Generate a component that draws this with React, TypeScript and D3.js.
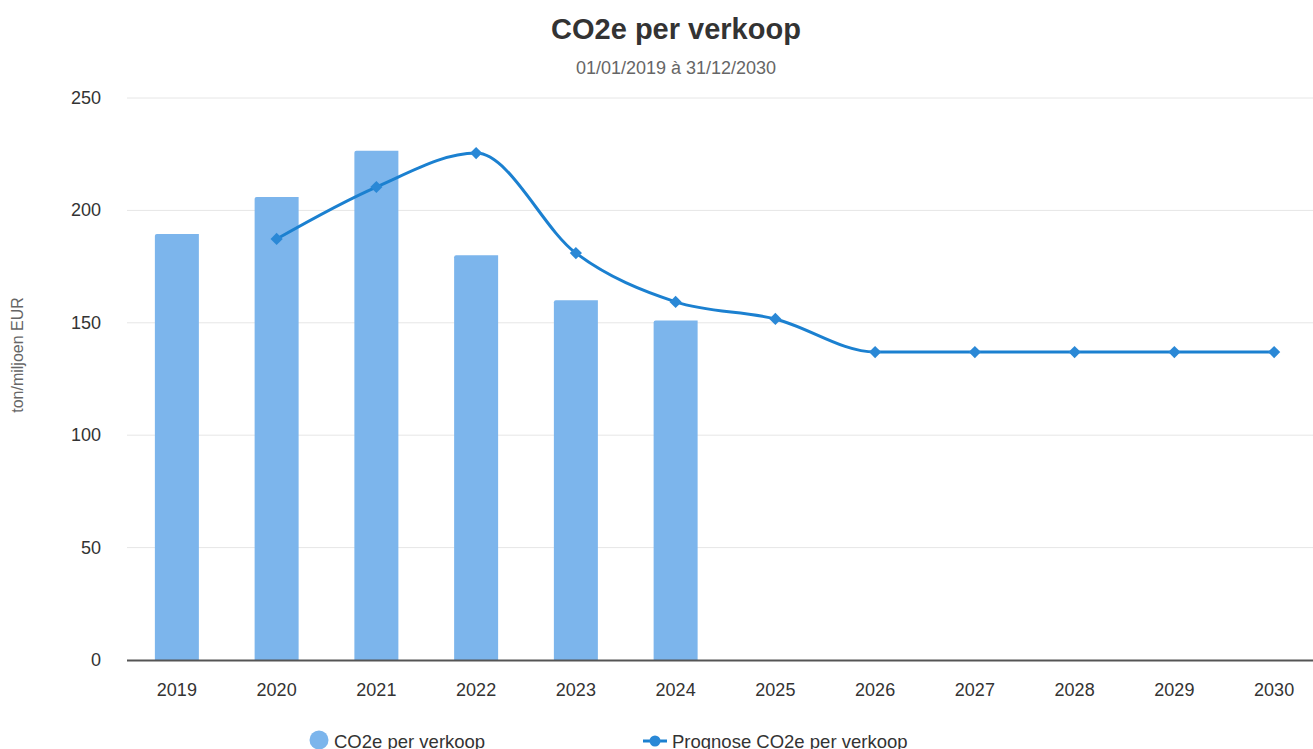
import React from "react";
import * as d3 from "d3";

const years = ["2019","2020","2021","2022","2023","2024","2025","2026","2027","2028","2029","2030"];
const barYears = ["2019","2020","2021","2022","2023","2024"];
const barValues = [189.5, 206, 226.5, 180, 160, 151];
const lineYears = ["2020","2021","2022","2023","2024","2025","2026","2027","2028","2029","2030"];
const lineValues = [187.3, 210.4, 225.5, 181, 159.3, 151.7, 137, 137, 137, 137, 137];
const yTicks = [0, 50, 100, 150, 200, 250];

const W = 1313, H = 749;
const left = 127, right = 1324, top = 98, bottom = 660;
const font = "'Liberation Sans', Arial, Helvetica, sans-serif";
const barColor = "#7cb5ec";
const lineColor = "#1b80d0";

export default function App() {
  const xc = d3.scalePoint<string>().domain(years).range([left, right]).padding(0.5);
  const y = d3.scaleLinear().domain([0, 250]).range([bottom, top]);
  const line = d3.line<number>()
    .x((_, i) => xc(lineYears[i])!)
    .y((d) => y(d))
    .curve(d3.curveMonotoneX);
  const bw = 44;
  const diamond = d3.symbol().type(d3.symbolDiamond2).size(95)();

  return (
    <svg width={W} height={H} style={{ position: "absolute", left: 0, top: 0, background: "#fff" }} fontFamily={font}>
      <text x={676} y={39} textAnchor="middle" fontSize={29} fontWeight="bold" fill="#333">CO2e per verkoop</text>
      <text x={676} y={74} textAnchor="middle" fontSize={18} fill="#666">01/01/2019 à 31/12/2030</text>
      {yTicks.map((t) => (
        <g key={t}>
          {t > 0 && <line x1={left} x2={W} y1={y(t)} y2={y(t)} stroke="#e6e6e6" strokeWidth={1} />}
          <text x={101} y={y(t) + 6} textAnchor="end" fontSize={18} fill="#333">{t}</text>
        </g>
      ))}
      <text transform={`translate(23,355) rotate(-90)`} textAnchor="middle" fontSize={16} fill="#666">ton/miljoen EUR</text>
      {barYears.map((yr, i) => {
        const cx = xc(yr)!;
        return (
          <path key={yr}
            d={`M${cx - bw / 2},${bottom} L${cx - bw / 2},${y(barValues[i]) + 2} Q${cx - bw / 2},${y(barValues[i])} ${cx - bw / 2 + 2},${y(barValues[i])} L${cx + bw / 2},${y(barValues[i])} L${cx + bw / 2},${bottom} Z`}
            fill={barColor} />
        );
      })}
      <line x1={left} x2={W} y1={bottom + 0.5} y2={bottom + 0.5} stroke="#555" strokeWidth={2} />
      {years.map((yr) => (
        <text key={yr} x={xc(yr)!} y={696} textAnchor="middle" fontSize={18} fill="#333">{yr}</text>
      ))}
      <path d={line(lineValues) || ""} fill="none" stroke={lineColor} strokeWidth={3} />
      {lineValues.map((v, i) => (
        <path key={i} d={diamond || ""} transform={`translate(${xc(lineYears[i])},${y(v)})`} fill="#2a88d6" />
      ))}
      <circle cx={319} cy={740} r={9.5} fill={barColor} />
      <text x={334} y={748} fontSize={18.5} fill="#333">CO2e per verkoop</text>
      <line x1={643} x2={667} y1={741} y2={741} stroke={lineColor} strokeWidth={3} />
      <circle cx={655} cy={741} r={5.5} fill="#2a88d6" />
      <text x={672} y={748} fontSize={18.5} fill="#333">Prognose CO2e per verkoop</text>
    </svg>
  );
}
